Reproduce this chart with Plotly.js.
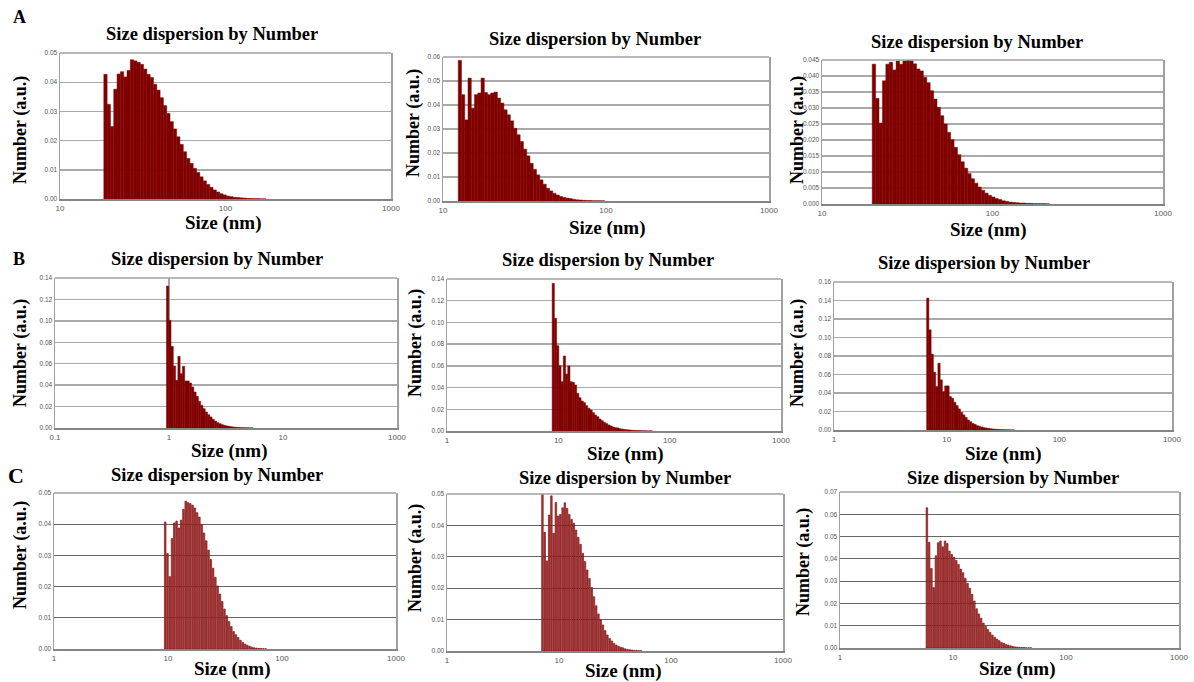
<!DOCTYPE html>
<html><head><meta charset="utf-8">
<script src="https://cdn.plot.ly/plotly-3.0.1.min.js"></script>
<style>html,body{margin:0;padding:0;background:#fff}#chart{width:1194px;height:682px}</style>
</head><body><div id="chart"></div>
<script>
// ---------- DATA ----------
// Number distributions, instrument bins are log-spaced (50 bins per decade);
// each series lists bin values starting at the given lower size (nm).
const a1Start = 18.4;
const a1Values = [0.0427,0.0324,0.0248,0.0376,0.0428,0.0436,0.0418,0.0440,0.0477,0.0473,0.0468,0.0461,0.0445,0.0427,0.0416,0.0393,0.0373,0.0347,0.0320,0.0293,0.0265,0.0240,0.0213,0.0187,0.0162,0.0139,0.0122,0.0105,0.0091,0.0076,0.0062,0.0050,0.0040,0.0031,0.0024,0.0018,0.0014,0.0010,0.0008,0.0006,0.0005,0.0004,0.0003,0.0002,0.00015,0.0001,0.0001,0.00005,0.00005];
const a2Start = 12.4;
const a2Values = [0.0586,0.0443,0.0338,0.0512,0.0387,0.0443,0.0450,0.0512,0.0452,0.0443,0.0450,0.0454,0.0429,0.0408,0.0380,0.0359,0.0334,0.0303,0.0276,0.0248,0.0216,0.0188,0.0157,0.0132,0.0109,0.0088,0.0070,0.0053,0.0042,0.0032,0.0025,0.0019,0.0015,0.0012,0.0010,0.0007,0.0005,0.0004,0.0003,0.0002,0.0002,0.0001,0.0001,0.0001,0.00005];
const a3Start = 19.7;
const a3Values = [0.0437,0.0330,0.0253,0.0385,0.0437,0.0443,0.0419,0.0447,0.0437,0.0447,0.0450,0.0448,0.0438,0.0422,0.0416,0.0396,0.0379,0.0354,0.0328,0.0302,0.0276,0.0250,0.0224,0.0201,0.0177,0.0154,0.0132,0.0112,0.0095,0.0079,0.0065,0.0053,0.0043,0.0034,0.0027,0.0022,0.0017,0.0014,0.0010,0.0008,0.0006,0.0005,0.0004,0.0003,0.0003,0.0002,0.0002,0.0001,0.0001,0.0001,0.0001,0.00005];
const b1Start = 0.95;
const b1Values = [0.1325,0.1005,0.0762,0.0579,0.0445,0.0669,0.0507,0.0576,0.0439,0.0439,0.0420,0.0383,0.0336,0.0296,0.0249,0.0212,0.0180,0.0149,0.0124,0.0103,0.0081,0.0065,0.0050,0.0040,0.0031,0.0025,0.0019,0.0016,0.0012,0.0009,0.0007,0.0005,0.0004,0.0003,0.0002,0.0002,0.0001,0.0001];
const b2Start = 8.8;
const b2Values = [0.1360,0.1038,0.0786,0.0602,0.0454,0.0691,0.0525,0.0599,0.0454,0.0448,0.0424,0.0347,0.0307,0.0276,0.0261,0.0233,0.0209,0.0193,0.0169,0.0147,0.0132,0.0110,0.0095,0.0080,0.0068,0.0055,0.0046,0.0037,0.0031,0.0028,0.0021,0.0018,0.0015,0.0012,0.0010,0.0008,0.0006,0.0005,0.0004,0.0003,0.0002,0.0002,0.0001,0.0001,0.0001];
const b3Start = 6.64;
const b3Values = [0.1426,0.1083,0.0820,0.0625,0.0470,0.0722,0.0542,0.0415,0.0477,0.0477,0.0361,0.0343,0.0300,0.0264,0.0228,0.0191,0.0163,0.0137,0.0108,0.0090,0.0072,0.0061,0.0047,0.0040,0.0032,0.0025,0.0022,0.0018,0.0014,0.0011,0.0009,0.0007,0.0005,0.0004,0.0003,0.0002,0.0002,0.0001,0.0001];
const c1Start = 9.3;
const c1Values = [0.0407,0.0306,0.0232,0.0354,0.0404,0.0410,0.0388,0.0413,0.0448,0.0474,0.0469,0.0466,0.0461,0.0452,0.0437,0.0423,0.0399,0.0372,0.0347,0.0317,0.0287,0.0259,0.0230,0.0202,0.0176,0.0152,0.0128,0.0107,0.0088,0.0072,0.0056,0.0046,0.0037,0.0028,0.0021,0.0016,0.0012,0.0009,0.0006,0.0004,0.0003,0.0002,0.0002,0.0001,0.0001];
const c2Start = 7.0;
const c2Values = [0.0499,0.0378,0.0287,0.0433,0.0494,0.0375,0.0473,0.0430,0.0435,0.0456,0.0472,0.0454,0.0435,0.0419,0.0407,0.0385,0.0362,0.0340,0.0311,0.0285,0.0258,0.0231,0.0202,0.0173,0.0144,0.0118,0.0099,0.0083,0.0065,0.0051,0.0040,0.0032,0.0024,0.0019,0.0015,0.0012,0.0010,0.0007,0.0005,0.0004,0.0003,0.0002,0.0002,0.0001,0.0001];
const c3Start = 5.78;
const c3Values = [0.0629,0.0474,0.0357,0.0271,0.0414,0.0472,0.0480,0.0454,0.0480,0.0469,0.0435,0.0420,0.0407,0.0393,0.0375,0.0354,0.0338,0.0313,0.0290,0.0268,0.0241,0.0211,0.0176,0.0153,0.0134,0.0112,0.0097,0.0083,0.0070,0.0058,0.0048,0.0040,0.0033,0.0025,0.0021,0.0016,0.0013,0.0010,0.0007,0.0005,0.0004,0.0003,0.0002,0.0002,0.0001,0.0001,0.0001];

// tick labels
const xTicksA = [10, 100, 1000];
const xTickTextA = ['10', '100', '1000'];
const xTicksB1 = [0.1, 1, 10, 100];
const xTickTextB1 = ['0.1', '1', '10', '1000'];
const xTicksBC = [1, 10, 100, 1000];
const xTickTextBC = ['1', '10', '100', '1000'];

const chartTitle = 'Size dispersion by Number';
const xTitle = 'Size (nm)';
const yTitle = 'Number (a.u.)';
const panelLetters = ['A', 'B', 'C'];

// ---------- LAYOUT / DRAWING ----------
const W = 1194, H = 682, BINS_PER_DECADE = 50;
const DARK = '#800000';
const panels = [
  {start:a1Start, vals:a1Values, xr:[10,1000], tv:xTicksA, tt:xTickTextA, ymax:0.05, dt:0.01, fmt:'.2f', box:[60,391,53,199], style:'solid', grid:'#a9a9a9',
   title:[212,34], xt:[223,223], yt:[20,130]},
  {start:a2Start, vals:a2Values, xr:[10,1000], tv:xTicksA, tt:xTickTextA, ymax:0.06, dt:0.01, fmt:'.2f', box:[443,769,57,201], style:'solid', grid:'#a9a9a9',
   title:[595,39], xt:[607,228], yt:[413,123]},
  {start:a3Start, vals:a3Values, xr:[10,1000], tv:xTicksA, tt:xTickTextA, ymax:0.045, dt:0.005, fmt:'.3f', box:[822,1163,60,204], style:'solid', grid:'#a9a9a9',
   title:[977,42], xt:[988,230], yt:[797,130]},
  {start:b1Start, vals:b1Values, xr:[0.1,100], tv:xTicksB1, tt:xTickTextB1, ymax:0.14, dt:0.02, fmt:'.2f', box:[55,397,278,428], style:'solid', grid:'#a9a9a9',
   title:[217,259], xt:[229,451], yt:[20,353]},
  {start:b2Start, vals:b2Values, xr:[1,1000], tv:xTicksBC, tt:xTickTextBC, ymax:0.14, dt:0.02, fmt:'.2f', box:[447,781,279,431], style:'solid', grid:'#a9a9a9',
   title:[608,260], xt:[625,454], yt:[415,343]},
  {start:b3Start, vals:b3Values, xr:[1,1000], tv:xTicksBC, tt:xTickTextBC, ymax:0.16, dt:0.02, fmt:'.2f', box:[834,1172,282,430], style:'solid', grid:'#a9a9a9',
   title:[984,263], xt:[1003,454], yt:[797,353]},
  {start:c1Start, vals:c1Values, xr:[1,1000], tv:xTicksBC, tt:xTickTextBC, ymax:0.05, dt:0.01, fmt:'.2f', box:[54,396,493,649], style:'striped', grid:'#666666',
   title:[217,475], xt:[232,669], yt:[20,555]},
  {start:c2Start, vals:c2Values, xr:[1,1000], tv:xTicksBC, tt:xTickTextBC, ymax:0.05, dt:0.01, fmt:'.2f', box:[447,783,494,651], style:'striped', grid:'#666666',
   title:[625,478], xt:[623,671], yt:[415,558]},
  {start:c3Start, vals:c3Values, xr:[1,1000], tv:xTicksBC, tt:xTickTextBC, ymax:0.07, dt:0.01, fmt:'.2f', box:[840,1179,492,648], style:'striped', grid:'#666666',
   title:[1013,478], xt:[1017,669], yt:[803,562]}
];
const letterPos = [[19,17],[19,259],[16,475]];
const letterSize = [18, 18, 22];

const serif = '"Liberation Serif", "Times New Roman", serif';
const sans = '"Liberation Sans", Arial, sans-serif';
const fx = v => v / W;
const fy = v => 1 - v / H;

const traces = [];
const layout = {
  width: W, height: H, margin: {l:0, r:0, t:0, b:0},
  showlegend: false, paper_bgcolor: '#fff', plot_bgcolor: '#fff',
  annotations: [], shapes: [], bargap: 0
};

panels.forEach((p, i) => {
  const n = i + 1;
  const sfx = n === 1 ? '' : String(n);
  const xa = 'x' + sfx, ya = 'y' + sfx;
  const striped = p.style === 'striped';
  const gap = striped ? 0.3 : 0;
  const xs = [], ws = [];
  p.vals.forEach((v, k) => {
    const l0 = Math.log10(p.start) + k / BINS_PER_DECADE;
    const l1 = l0 + (1 - gap) / BINS_PER_DECADE;
    const lo = Math.pow(10, l0), hi = Math.pow(10, l1);
    xs.push((lo + hi) / 2); ws.push(hi - lo);
  });
  traces.push({
    type: 'bar', x: xs, y: p.vals, width: ws, xaxis: xa, yaxis: ya,
    marker: {color: striped ? '#a63c3c' : DARK,
             line: {color: striped ? '#7d0000' : DARK, width: striped ? 0.6 : 0.5}},
    hoverinfo: 'skip'
  });
  const [L, R, T, B] = p.box;
  const nt = Math.round(p.ymax / p.dt);
  const yv = [];
  for (let k = 0; k <= nt; k++) yv.push(Number((k * p.dt).toFixed(4)));
  layout['xaxis' + sfx] = {
    type: 'log', range: [Math.log10(p.xr[0]), Math.log10(p.xr[1])],
    domain: [fx(L), fx(R)], anchor: ya,
    tickmode: 'array', tickvals: p.tv, ticktext: p.tt, ticks: '',
    tickfont: {family: sans, size: 8, color: '#555'},
    showgrid: false, zeroline: false,
    showline: true, linecolor: '#858585', linewidth: 2, mirror: false, fixedrange: true
  };
  layout['yaxis' + sfx] = {
    range: [0, p.ymax], domain: [fy(B), fy(T)], anchor: xa,
    tickmode: 'array', tickvals: yv, tickformat: p.fmt, ticks: '',
    tickfont: {family: sans, size: 6.5, color: '#555'},
    showgrid: true, gridcolor: p.grid, gridwidth: striped ? 1 : 1.4, zeroline: false,
    showline: true, linecolor: '#a0a0a0', linewidth: 1.5, mirror: true, fixedrange: true
  };
  layout.shapes.push({type: 'line', xref: xa + ' domain', yref: ya + ' domain', x0: 0, x1: 1, y0: 1, y1: 1,
    line: {color: '#a0a0a0', width: 1.5}});
  layout.annotations.push(
    {xref: 'paper', yref: 'paper', x: fx(p.title[0]), y: fy(p.title[1]), xanchor: 'center', yanchor: 'middle',
     text: '<b>' + chartTitle + '</b>', showarrow: false, font: {family: serif, size: 18.5, color: '#000'}},
    {xref: 'paper', yref: 'paper', x: fx(p.xt[0]), y: fy(p.xt[1]), xanchor: 'center', yanchor: 'middle',
     text: '<b>' + xTitle + '</b>', showarrow: false, font: {family: serif, size: 19, color: '#000'}},
    {xref: 'paper', yref: 'paper', x: fx(p.yt[0]), y: fy(p.yt[1]), xanchor: 'center', yanchor: 'middle', textangle: -90,
     text: '<b>' + yTitle + '</b>', showarrow: false, font: {family: serif, size: 18, color: '#000'}}
  );
});

// vertical marker line at 1 nm in panel B (first panel)
layout.shapes.push({type: 'line', xref: 'x4', yref: 'y4 domain', x0: 1, x1: 1, y0: 0, y1: 1,
  line: {color: '#6a6a6a', width: 1.2}, layer: 'below'});

panelLetters.forEach((t, i) => {
  layout.annotations.push({xref: 'paper', yref: 'paper', x: fx(letterPos[i][0]), y: fy(letterPos[i][1]),
    xanchor: 'center', yanchor: 'middle', text: '<b>' + t + '</b>', showarrow: false,
    font: {family: serif, size: letterSize[i], color: '#000'}});
});

Plotly.newPlot('chart', traces, layout, {displayModeBar: false, staticPlot: true});
</script>
</body></html>
